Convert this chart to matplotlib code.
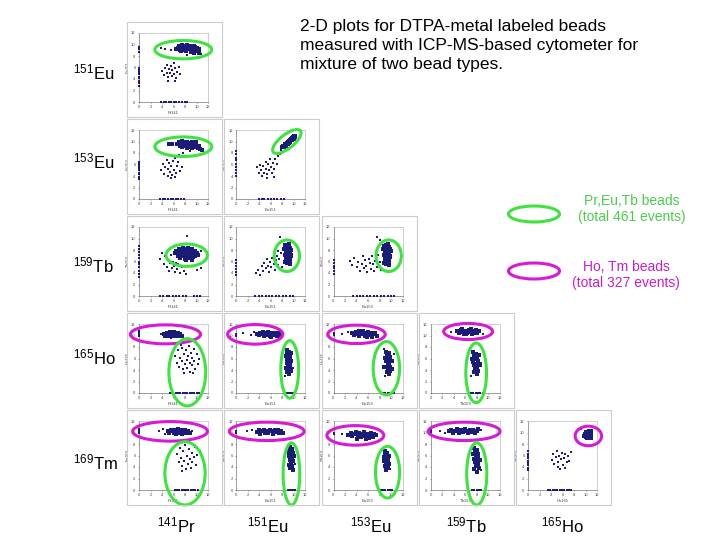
import matplotlib.pyplot as plt
from matplotlib.patches import Ellipse, Rectangle

plt.rcParams['font.family'] = ['Liberation Sans', 'DejaVu Sans']
plt.rcParams['mathtext.fontset'] = 'custom'
plt.rcParams['mathtext.rm'] = 'Liberation Sans'
plt.rcParams['mathtext.it'] = 'Liberation Sans:italic'

# --- labels ---
row_mass = ['151', '153', '159', '165', '169']
row_elem = ['Eu', 'Eu', 'Tb', 'Ho', 'Tm']
col_mass = ['141', '151', '153', '159', '165']
col_elem = ['Pr', 'Eu', 'Eu', 'Tb', 'Ho']
ticks = [0, 2, 4, 6, 8, 10, 12]

title = ("2-D plots for DTPA-metal labeled beads\n"
         "measured with ICP-MS-based cytometer for\n"
         "mixture of two bead types.")
green_label = "Pr,Eu,Tb beads\n(total 461 events)"
magenta_label = "Ho, Tm beads\n(total 327 events)"

# --- data, read off the thumbnails (log-scaled counts, 0..12) ---
# row 151Eu
eu151_pr141_dense = [(6.8,9.4),(7.0,9.7),(7.2,9.1),(7.4,9.6),(7.5,9.9),(7.7,9.3),(7.9,9.7),(8.0,9.0),(8.2,9.5),(8.3,9.9),
                     (8.5,9.2),(8.6,9.6),(8.8,9.8),(8.9,9.3),(9.1,9.6),(9.2,9.0),(9.4,9.5),(9.5,9.8),(9.7,9.2),(9.8,9.6),
                     (10.0,9.0),(10.1,9.4),(10.3,8.8),(10.5,9.2),(9.0,8.7),(8.1,8.8),(7.3,8.9),(6.5,9.2),(9.6,8.5),(10.4,8.6),
                     (0,2.8),(0,3.3),(0,3.7),(0,4.1),(0,4.4),(0,4.9),(0,5.3),(0,5.6),(0,6.0),(0,8.7),(0,9.2),(0,9.6),
                     (3.8,0),(4.3,0),(4.7,0),(5.2,0),(5.6,0),(6.1,0),(6.5,0),(7.0,0),(7.4,0),(8.0,0),(8.4,0)]
eu151_pr141_sparse = [(4.0,5.4),(4.3,4.7),(4.5,6.0),(4.8,5.1),(4.9,6.5),(5.1,4.3),(5.2,5.8),(5.4,5.0),(5.5,6.3),(5.7,4.6),
                      (5.8,5.5),(6.0,6.8),(6.1,4.9),(6.3,5.9),(6.5,4.2),(6.6,5.3),(6.9,6.1),(7.2,4.8),(5.0,3.6),(6.2,3.7),
                      (5.6,9.0),(4.6,9.3),(3.9,9.4),(10.8,8.3),(8.4,8.1),(6.7,7.4)]

# row 153Eu
eu153_pr141_dense = [(6.6,9.6),(6.9,9.9),(7.1,9.3),(7.3,9.8),(7.5,10.1),(7.7,9.5),(7.9,9.9),(8.1,9.2),(8.2,9.7),(8.4,10.0),
                     (8.6,9.4),(8.7,9.8),(8.9,9.1),(9.0,9.6),(9.2,9.9),(9.4,9.3),(9.5,9.7),(9.7,9.0),(9.8,9.4),(10.0,9.1),
                     (10.2,8.8),(10.4,9.2),(10.6,8.7),(9.3,8.8),(8.3,8.9),(7.4,9.0),(5.8,9.5),(5.2,9.6),(10.9,8.6),(9.9,10.0),
                     (0,3.5),(0,3.9),(0,4.3),(0,4.6),(0,5.0),(0,5.4),(0,5.7),(0,6.1),(0,6.5),
                     (3.7,0),(4.2,0),(4.6,0),(5.1,0),(5.5,0),(5.9,0),(6.4,0),(6.8,0),(7.3,0),(7.9,0)]
eu153_pr141_sparse = [(3.9,5.0),(4.2,6.1),(4.4,4.4),(4.6,5.6),(4.8,6.8),(5.0,4.0),(5.1,5.2),(5.3,6.3),(5.4,4.7),(5.6,5.8),
                      (5.8,4.2),(5.9,6.6),(6.1,5.1),(6.2,7.1),(6.4,4.5),(6.6,5.7),(6.8,6.4),(7.1,4.9),(7.4,5.5),(5.5,3.7),
                      (6.3,3.9),(7.6,8.0),(8.8,8.4),(7.0,7.6)]
eu153_eu151_dense = [(8.0,9.0),(8.2,9.3),(8.3,9.1),(8.5,9.5),(8.6,9.3),(8.8,9.8),(8.9,9.6),(9.0,9.9),(9.1,10.1),(9.2,9.8),
                     (9.3,10.3),(9.4,10.0),(9.5,10.4),(9.6,10.2),(9.7,10.6),(9.8,10.4),(9.9,10.7),(10.0,10.5),(10.1,10.9),
                     (10.2,10.7),(9.0,9.6),(9.4,10.2),(9.7,10.3),(8.7,9.6),(10.3,11.0),
                     (0,4.0),(0,4.5),(0,5.0),(0,5.6),(0,6.1),(0,6.7),(0,7.2),(0,7.8),(0,8.4),
                     (3.9,0),(4.4,0),(4.9,0),(5.5,0),(6.0,0),(6.6,0),(7.1,0),(7.7,0),(8.3,0)]
eu153_eu151_sparse = [(3.6,5.6),(3.9,4.6),(4.1,6.0),(4.3,5.1),(4.5,4.0),(4.7,5.8),(4.9,4.6),(5.1,6.5),(5.2,5.3),(5.4,4.3),
                      (5.6,6.1),(5.7,5.0),(5.9,6.9),(6.1,5.6),(6.2,4.5),(6.4,6.3),(6.6,5.2),(6.8,7.0),(7.0,6.1),(7.3,7.4),
                      (7.6,7.9),(7.8,8.5),(6.5,3.8),(5.3,3.7)]

# row 159Tb
tb159_pr141_dense = [(6.2,7.4),(6.5,7.8),(6.7,6.9),(6.9,7.5),(7.0,8.1),(7.2,6.6),(7.3,7.2),(7.5,7.8),(7.6,6.9),(7.8,7.5),
                     (7.9,8.2),(8.0,6.5),(8.1,7.1),(8.3,7.7),(8.4,6.8),(8.5,8.0),(8.7,7.3),(8.8,6.6),(9.0,7.6),(9.1,7.0),
                     (9.3,8.1),(9.4,6.7),(9.5,7.4),(9.7,7.9),(9.8,6.9),(10.0,7.5),(10.2,7.1),(8.6,8.3),(7.7,8.3),(8.2,6.2),
                     (9.2,6.3),(7.1,7.0),
                     (0,3.3),(0,3.9),(0,4.4),(0,5.0),(0,5.5),(0,6.0),(0,6.6),(0,7.1),(0,7.7),(0,8.2),(0,8.7),
                     (3.7,0),(4.2,0),(4.8,0),(5.3,0),(5.9,0),(6.4,0),(7.0,0),(7.6,0),(8.2,0),(9.6,0),(10.1,0),(10.6,0)]
tb159_pr141_sparse = [(3.7,6.5),(4.0,7.4),(4.3,5.6),(4.6,6.9),(4.8,5.0),(5.0,6.2),(5.2,4.4),(5.4,5.7),(5.5,7.2),(5.7,4.9),
                      (5.9,6.0),(6.0,5.3),(6.2,4.2),(6.4,5.8),(6.6,4.7),(6.8,5.5),(7.1,4.0),(7.4,5.1),(7.8,4.4),(8.1,3.8),
                      (9.4,5.2),(10.0,4.6),(10.4,5.6),(10.8,4.9),(8.3,10.4),(10.8,7.8)]
tb159_eu151_dense = [(8.5,8.8),(8.7,8.4),(8.9,8.9),(9.0,8.1),(9.2,8.6),(9.4,8.3),(8.6,7.9),(8.8,7.6),(9.0,7.8),(9.2,7.4),
                     (9.4,7.7),(9.5,7.1),(8.5,7.2),(8.7,6.9),(8.9,7.2),(9.1,6.8),(9.3,6.6),(8.6,6.5),(8.8,6.2),(9.0,6.4),
                     (9.2,6.0),(9.4,6.2),(8.4,5.9),(8.9,5.7),(9.3,5.5),(9.6,8.0),(8.3,8.2),(9.1,9.1),(9.6,6.9),
                     (0,3.7),(0,4.2),(0,4.7),(0,5.2),(0,5.7),(0,6.2),
                     (3.3,0),(3.9,0),(4.5,0),(5.1,0),(5.7,0),(6.3,0),(6.9,0),(7.5,0),(8.1,0),(8.7,0),(9.3,0),(9.9,0)]
tb159_eu151_sparse = [(3.4,4.0),(3.8,4.6),(4.1,3.7),(4.4,5.3),(4.6,4.4),(4.9,5.8),(5.1,4.9),(5.3,6.4),(5.5,5.3),(5.7,4.2),
                      (5.9,6.0),(6.1,5.0),(6.3,6.6),(6.5,5.6),(6.7,4.6),(6.9,6.2),(7.1,7.0),(7.3,5.4),(7.5,6.5),(7.8,7.4),
                      (8.0,5.0),(7.6,10.3),(8.1,9.6),(7.2,7.8)]
tb159_eu153_dense = [(8.8,8.7),(9.0,8.3),(9.2,8.8),(9.4,8.0),(9.6,8.5),(9.8,8.2),(8.9,7.8),(9.1,7.5),(9.3,7.7),(9.5,7.3),
                     (9.7,7.6),(9.9,7.0),(8.8,7.1),(9.0,6.8),(9.2,7.1),(9.4,6.7),(9.6,6.5),(8.9,6.4),(9.1,6.1),(9.3,6.3),
                     (9.5,5.9),(9.7,6.1),(8.7,5.8),(9.2,5.6),(9.6,5.4),(10.0,7.9),(8.6,8.1),(9.4,9.0),(9.9,6.8),
                     (0,3.9),(0,4.4),(0,4.8),(0,5.3),(0,5.8),(0,6.3),
                     (3.4,0),(4.0,0),(4.6,0),(5.2,0),(5.8,0),(6.4,0),(7.0,0),(7.6,0),(8.2,0),(8.8,0),(9.4,0),(10.0,0),(10.5,0)]
tb159_eu153_sparse = [(2.9,6.1),(3.3,5.4),(3.6,6.6),(4.0,5.0),(4.3,6.0),(4.6,4.4),(4.9,5.6),(5.1,6.9),(5.3,4.8),(5.5,6.2),
                      (5.7,5.3),(5.9,4.1),(6.1,6.5),(6.3,5.8),(6.5,4.7),(6.7,6.9),(6.9,5.5),(7.1,4.3),(7.3,6.1),(7.6,5.0),
                      (7.7,7.1),(8.1,6.0),(7.6,10.3),(8.0,9.7),(8.3,4.6)]

# row 165Ho
ho165_pr141_dense = [(4.3,10.3),(4.6,10.1),(4.8,10.5),(5.0,10.2),(5.2,9.9),(5.3,10.4),(5.5,10.1),(5.7,10.5),(5.8,10.0),
                     (6.0,10.3),(6.2,9.9),(6.3,10.5),(6.5,10.2),(6.7,10.0),(6.8,10.4),(7.0,10.1),(7.2,10.3),(7.4,10.0),
                     (5.4,10.6),(6.1,10.6),(4.5,9.9),(0,9.9),(0,10.2),(0,10.5),(0,10.8),
                     (5.4,0),(5.8,0),(6.4,0),(6.8,0),(7.2,0),(7.6,0),(8.0,0),(8.4,0),(8.8,0),(9.2,0),(9.6,0),(10.0,0),(10.4,0)]
ho165_pr141_sparse = [(6.3,6.5),(6.6,5.2),(6.8,7.4),(7.0,4.6),(7.2,6.1),(7.4,7.8),(7.5,5.5),(7.7,4.1),(7.8,6.8),(8.0,5.0),
                      (8.1,7.5),(8.3,5.8),(8.4,4.4),(8.6,6.4),(8.7,8.1),(8.9,5.3),(9.0,7.0),(9.2,4.8),(9.3,6.1),(9.5,7.6),
                      (9.6,5.6),(9.8,4.2),(10.0,6.7),(10.2,5.1),(10.5,6.0),(7.9,3.5),(8.8,3.7),(9.4,3.4),(7.3,8.3),
                      (5.6,9.6),(3.9,10.2)]
ho165_eu151_dense = [(3.6,10.3),(3.9,10.1),(4.2,10.5),(4.5,10.2),(4.8,9.9),(5.0,10.4),(5.3,10.1),(5.5,10.6),(5.8,10.0),
                     (6.0,10.3),(6.3,10.5),(6.5,10.1),(6.8,10.4),(7.0,9.9),(7.2,10.2),(7.5,10.5),(7.7,10.0),(6.1,9.8),
                     (4.7,10.6),(0,10.0),(0,10.3),
                     (8.8,7.4),(9.1,7.1),(8.9,6.8),(9.3,6.6),(9.0,6.3),(9.4,6.0),(8.8,5.9),(9.2,5.6),(8.9,5.3),(9.4,5.1),
                     (9.0,4.8),(9.3,4.5),(8.7,4.4),(9.1,4.1),(9.5,3.9),(8.9,3.6),(9.2,3.3),(9.6,5.5),(8.6,6.5),(9.5,7.0),
                     (8.3,0),(8.6,0),(8.9,0),(9.2,0),(9.5,0),(9.8,0)]
ho165_eu151_sparse = [(1.2,10.4),(2.6,10.1),(3.1,10.6),(8.2,7.7),(9.8,4.3),(8.4,3.0)]
ho165_eu153_dense = [(3.3,10.4),(3.6,10.1),(3.9,10.6),(4.2,10.3),(4.5,9.9),(4.7,10.5),(5.0,10.2),(5.2,10.7),(5.5,10.0),
                     (5.7,10.4),(6.0,10.6),(6.2,10.1),(6.5,10.4),(6.7,9.8),(7.0,10.2),(7.3,10.5),(7.5,10.0),(5.9,9.8),
                     (4.4,10.8),(0,10.1),(0,10.4),
                     (9.2,7.2),(9.6,6.9),(9.3,6.5),(9.8,6.3),(9.5,6.0),(9.9,5.7),(9.2,5.5),(9.7,5.2),(9.4,4.9),(9.9,4.6),
                     (9.5,4.3),(9.8,3.9),(9.3,3.7),(9.7,3.3),(10.1,4.1),(9.0,6.1),(10.2,5.5),(8.8,4.6),
                     (8.2,0),(8.6,0),(9.0,0),(9.4,0),(9.8,0),(10.2,0),(10.5,0)]
ho165_eu153_sparse = [(1.4,10.3),(2.5,10.6),(8.7,7.6),(10.5,6.7),(9.0,3.0)]
ho165_tb159_dense = [(4.6,10.7),(4.9,10.4),(5.2,10.9),(5.5,10.6),(5.8,10.3),(6.0,10.8),(6.3,10.5),(6.6,11.0),(6.8,10.6),
                     (7.1,10.3),(7.3,10.8),(7.6,10.5),(7.9,10.9),(8.1,10.4),(8.4,10.7),(5.4,11.1),(7.0,11.1),(6.2,10.2),
                     (7.4,7.1),(7.8,6.8),(7.5,6.4),(8.0,6.2),(7.7,5.9),(8.2,5.6),(7.4,5.4),(7.9,5.1),(7.6,4.8),(8.1,4.5),
                     (7.7,4.2),(8.3,3.9),(7.5,3.6),(8.0,3.3),(8.5,4.9),(7.2,6.0),(8.4,6.6),
                     (7.0,0),(7.4,0),(7.8,0),(8.2,0),(8.6,0),(9.0,0)]
ho165_tb159_sparse = [(3.5,10.6),(9.0,10.3),(6.8,7.6),(8.8,5.3),(7.0,3.0)]

# row 169Tm
tm169_pr141_dense = [(5.0,10.3),(5.3,10.0),(5.5,10.5),(5.8,10.2),(6.0,9.9),(6.2,10.4),(6.5,10.1),(6.7,10.6),(7.0,10.0),
                     (7.2,10.3),(7.5,10.5),(7.7,10.1),(8.0,10.4),(8.2,9.9),(8.5,10.2),(8.8,10.0),(6.4,9.7),(7.4,9.8),
                     (0,10.0),(0,10.3),(0,10.6),
                     (6.2,0),(6.6,0),(7.0,0),(7.4,0),(7.8,0),(8.2,0),(8.6,0),(9.0,0),(9.4,0),(9.8,0),(10.2,0)]
tm169_pr141_sparse = [(6.6,6.2),(6.9,4.9),(7.1,7.3),(7.3,5.6),(7.5,4.2),(7.7,6.7),(7.9,5.1),(8.0,7.8),(8.2,3.6),(8.3,6.0),
                      (8.5,4.6),(8.7,7.1),(8.8,5.4),(9.0,3.9),(9.2,6.5),(9.3,4.8),(9.5,5.8),(9.7,7.4),(9.9,4.3),(10.1,6.1),
                      (7.4,3.3),(8.6,8.3),(3.4,10.2),(4.2,10.6),(4.5,9.8),(9.3,10.3),(10.6,6.8)]
tm169_eu151_dense = [(3.6,10.1),(3.9,10.4),(4.2,9.8),(4.5,10.2),(4.8,10.5),(5.0,9.9),(5.3,10.3),(5.6,10.0),(5.9,10.5),
                     (6.1,10.2),(6.4,9.8),(6.7,10.4),(7.0,10.1),(7.2,10.5),(7.5,9.9),(7.8,10.3),(8.1,10.0),(0,10.0),(0,10.3),
                     (9.4,7.4),(9.7,7.1),(9.3,6.8),(9.8,6.5),(9.5,6.2),(9.2,5.9),(9.7,5.6),(9.4,5.3),(9.9,5.0),(9.5,4.7),
                     (9.2,4.4),(9.7,4.1),(9.4,3.8),(9.8,3.4),(9.1,6.6),(10.0,6.0),
                     (9.0,0),(9.3,0),(9.6,0),(9.9,0),(10.2,0)]
tm169_eu151_sparse = [(1.8,10.2),(2.7,10.4),(9.0,7.8),(10.2,4.6)]
tm169_eu153_dense = [(2.6,9.6),(3.0,9.9),(3.3,9.4),(3.6,9.8),(3.9,10.1),(4.2,9.5),(4.5,9.9),(4.8,9.2),(5.0,9.7),(5.3,10.1),
                     (5.5,9.4),(5.8,9.8),(6.1,9.1),(6.3,9.6),(6.6,10.0),(6.9,9.3),(7.1,9.7),(7.4,9.5),(5.6,8.9),(4.0,8.9),
                     (0,9.7),(0,10.0),
                     (9.0,6.8),(9.3,6.5),(8.9,6.2),(9.4,5.9),(9.1,5.6),(9.5,5.3),(8.8,5.0),(9.2,4.7),(9.6,4.5),(9.0,4.2),
                     (9.4,3.9),(9.1,3.5),(9.7,6.0),(8.7,5.7),
                     (8.2,0),(8.6,0),(9.0,0),(9.4,0),(9.8,0),(10.2,0)]
tm169_eu153_sparse = [(1.5,9.8),(8.4,6.9),(9.9,3.7)]
tm169_tb159_dense = [(3.2,10.2),(3.6,10.5),(3.9,9.9),(4.3,10.3),(4.6,10.6),(4.9,10.0),(5.3,10.4),(5.6,10.1),(5.9,10.6),
                     (6.2,10.2),(6.5,9.9),(6.8,10.5),(7.1,10.1),(7.4,10.4),(7.7,10.0),(8.0,10.3),(8.3,10.6),(0,10.1),(0,10.4),
                     (7.6,7.3),(8.0,7.0),(7.7,6.6),(8.2,6.3),(7.8,6.0),(8.3,5.7),(7.5,5.4),(8.0,5.1),(7.7,4.8),(8.2,4.5),
                     (7.8,4.2),(8.4,3.9),(7.6,3.6),(8.1,3.2),(8.6,5.2),(7.3,6.2),
                     (7.2,0),(7.6,0),(8.0,0),(8.4,0),(8.8,0)]
tm169_tb159_sparse = [(1.6,10.3),(2.4,10.0),(8.8,10.4),(7.2,7.7),(8.7,3.5)]
tm169_ho165_dense = [(9.7,9.4),(9.9,9.8),(10.0,9.2),(10.1,9.6),(10.2,10.0),(10.3,9.4),(10.4,9.8),(10.5,9.1),(10.5,9.6),
                     (10.6,10.1),(10.7,9.3),(10.8,9.7),(10.9,9.5),(11.0,9.9),(10.3,9.0),(10.6,10.3),(10.0,10.1),(10.9,9.1),
                     (10.4,9.6),(10.6,9.5),(10.2,9.7),
                     (0,3.5),(0,3.9),(0,4.3),(0,4.7),(0,5.1),(0,5.5),(0,5.9),(0,6.3),(0,6.7),
                     (3.5,0),(3.9,0),(4.3,0),(4.7,0),(5.1,0),(5.5,0),(5.9,0),(6.3,0),(6.7,0),(7.1,0),(7.5,0)]
tm169_ho165_sparse = [(4.1,5.2),(4.3,6.3),(4.6,4.5),(4.8,5.7),(5.0,6.8),(5.2,4.9),(5.4,6.0),(5.6,3.6),(5.7,5.4),(5.9,6.5),
                      (6.1,4.4),(6.3,5.6),(6.5,6.2),(6.7,4.8),(6.9,5.9),(7.2,5.0),(7.5,6.6),(5.3,4.0),(6.4,3.8),
                      (9.2,10.6),(11.2,10.4)]

panels = {
    (0, 0): (eu151_pr141_dense, eu151_pr141_sparse),
    (1, 0): (eu153_pr141_dense, eu153_pr141_sparse),
    (1, 1): (eu153_eu151_dense, eu153_eu151_sparse),
    (2, 0): (tb159_pr141_dense, tb159_pr141_sparse),
    (2, 1): (tb159_eu151_dense, tb159_eu151_sparse),
    (2, 2): (tb159_eu153_dense, tb159_eu153_sparse),
    (3, 0): (ho165_pr141_dense, ho165_pr141_sparse),
    (3, 1): (ho165_eu151_dense, ho165_eu151_sparse),
    (3, 2): (ho165_eu153_dense, ho165_eu153_sparse),
    (3, 3): (ho165_tb159_dense, ho165_tb159_sparse),
    (4, 0): (tm169_pr141_dense, tm169_pr141_sparse),
    (4, 1): (tm169_eu151_dense, tm169_eu151_sparse),
    (4, 2): (tm169_eu153_dense, tm169_eu153_sparse),
    (4, 3): (tm169_tb159_dense, tm169_tb159_sparse),
    (4, 4): (tm169_ho165_dense, tm169_ho165_sparse),
}

# gates drawn on each panel: colour, centre x, centre y, width, height, angle
GREEN = '#3fe23f'
MAGENTA = '#d61ad6'
gates = {
    (0, 0): [(GREEN, 7.7, 9.1, 9.9, 3.2, 0)],
    (1, 0): [(GREEN, 7.7, 9.1, 9.9, 3.4, 0)],
    (1, 1): [(GREEN, 8.8, 10.0, 6.0, 2.4, 38)],
    (2, 0): [(GREEN, 8.3, 7.1, 7.2, 3.9, 0)],
    (2, 1): [(GREEN, 8.8, 7.0, 4.4, 5.5, 0)],
    (2, 2): [(GREEN, 9.6, 7.0, 4.4, 5.5, 0)],
    (3, 0): [(MAGENTA, 4.6, 10.2, 12.2, 3.3, 0), (GREEN, 8.4, 3.6, 6.4, 11.7, 0)],
    (3, 1): [(MAGENTA, 3.3, 10.2, 9.6, 3.4, 0), (GREEN, 9.3, 4.1, 3.1, 10.0, 0)],
    (3, 2): [(MAGENTA, 4.0, 10.2, 10.0, 3.2, 0), (GREEN, 9.2, 4.3, 4.6, 9.3, 0)],
    (3, 3): [(MAGENTA, 6.5, 10.7, 8.5, 2.8, 0), (GREEN, 7.9, 3.5, 3.6, 10.4, 0)],
    (4, 0): [(MAGENTA, 5.4, 10.2, 13.0, 3.4, 0), (GREEN, 8.0, 2.9, 7.0, 11.0, 0)],
    (4, 1): [(MAGENTA, 5.3, 10.2, 13.0, 3.2, 0), (GREEN, 9.6, 2.8, 2.9, 10.8, 0)],
    (4, 2): [(MAGENTA, 3.8, 9.5, 9.9, 3.4, 0), (GREEN, 9.4, 3.1, 4.2, 9.0, 0)],
    (4, 3): [(MAGENTA, 5.8, 10.2, 12.5, 3.2, 0), (GREEN, 8.0, 2.8, 3.5, 10.8, 0)],
    (4, 4): [(MAGENTA, 10.5, 9.4, 4.6, 3.4, 0)],
}

W, H = 720, 540
DOT = '#1b1b78'


def fig_box(x, y, w, h):
    # pixel box (top-left origin) -> figure fraction
    return [x / W, 1 - (y + h) / H, w / W, h / H]


fig = plt.figure(figsize=(7.2, 5.4), dpi=100)
fig.patch.set_facecolor('white')

for (r, c), (dense, sparse) in panels.items():
    fx = 127 + c * 97.25
    fy = 22 + r * 97
    fb = fig_box(fx, fy, 95, 95)
    fig.add_artist(Rectangle((fb[0], fb[1]), fb[2], fb[3], transform=fig.transFigure,
                             fill=False, ec='#cccccc', lw=0.8))
    ax = fig.add_axes(fig_box(fx + 12, fy + 11, 69, 69))
    ax.set_xlim(0, 12)
    ax.set_ylim(0, 12)
    ax.set_xticks(ticks)
    ax.set_yticks(ticks)
    ax.tick_params(labelsize=3, length=1, width=0.4, pad=1.5, colors='#444444')
    for side in ['top', 'right']:
        ax.spines[side].set_color('#bbbbbb')
        ax.spines[side].set_linewidth(0.5)
    for side in ['left', 'bottom']:
        ax.spines[side].set_color('#777777')
        ax.spines[side].set_linewidth(0.5)
    ax.set_xlabel(col_elem[c] + col_mass[c], fontsize=3, labelpad=1, color='#444444')
    ax.set_ylabel(row_elem[r] + row_mass[r], fontsize=3, labelpad=1, color='#444444')

    # events piled up on an axis (zero signal) form thin lines
    on_axis = [p for p in dense if p[0] == 0 or p[1] == 0]
    cluster = [p for p in dense if p[0] != 0 and p[1] != 0]
    xs, ys = zip(*cluster)
    ax.scatter(xs, ys, s=6, c=DOT, marker='s', linewidths=0, clip_on=False, zorder=3)
    xs, ys = zip(*on_axis)
    ax.scatter(xs, ys, s=4.5, c=DOT, marker='s', linewidths=0, clip_on=False, zorder=3)
    xs, ys = zip(*sparse)
    ax.scatter(xs, ys, s=2, c=DOT, marker='s', linewidths=0, clip_on=False, zorder=3)

    for color, cx, cy, ew, eh, ang in gates[(r, c)]:
        ax.add_patch(Ellipse((cx, cy), ew, eh, angle=ang, fill=False, ec=color,
                             lw=2.2, clip_on=False, zorder=4))

# row and column isotope labels
row_y = [72, 161, 265, 357, 462]
for r in range(5):
    fig.text(73 / W, 1 - row_y[r] / H, r'$^{%s}$' % row_mass[r] + row_elem[r],
             fontsize=12, ha='left', va='center')
col_x = [176, 268, 371, 466, 562]
for c in range(5):
    fig.text(col_x[c] / W, 1 - 525 / H, r'$^{%s}$' % col_mass[c] + col_elem[c],
             fontsize=12, ha='center', va='center')

fig.text(300 / W, 1 - 19 / H, title, fontsize=12.5, ha='left', va='top', linespacing=1.34)

# legend
for color, cy, label, ty, tcol in [(GREEN, 214, green_label, 209, '#4ccc4c'),
                                   (MAGENTA, 271, magenta_label, 275, '#c81ec8')]:
    fig.add_artist(Ellipse((534 / W, 1 - cy / H), 51 / W, 16 / H, transform=fig.transFigure,
                           fill=False, ec=color, lw=2.2))
    tx = 632 if color == GREEN else 626
    fig.text(tx / W, 1 - ty / H, label, fontsize=10, ha='center', va='center',
             color=tcol, linespacing=1.1)

fig.savefig('out.png', dpi=100)
